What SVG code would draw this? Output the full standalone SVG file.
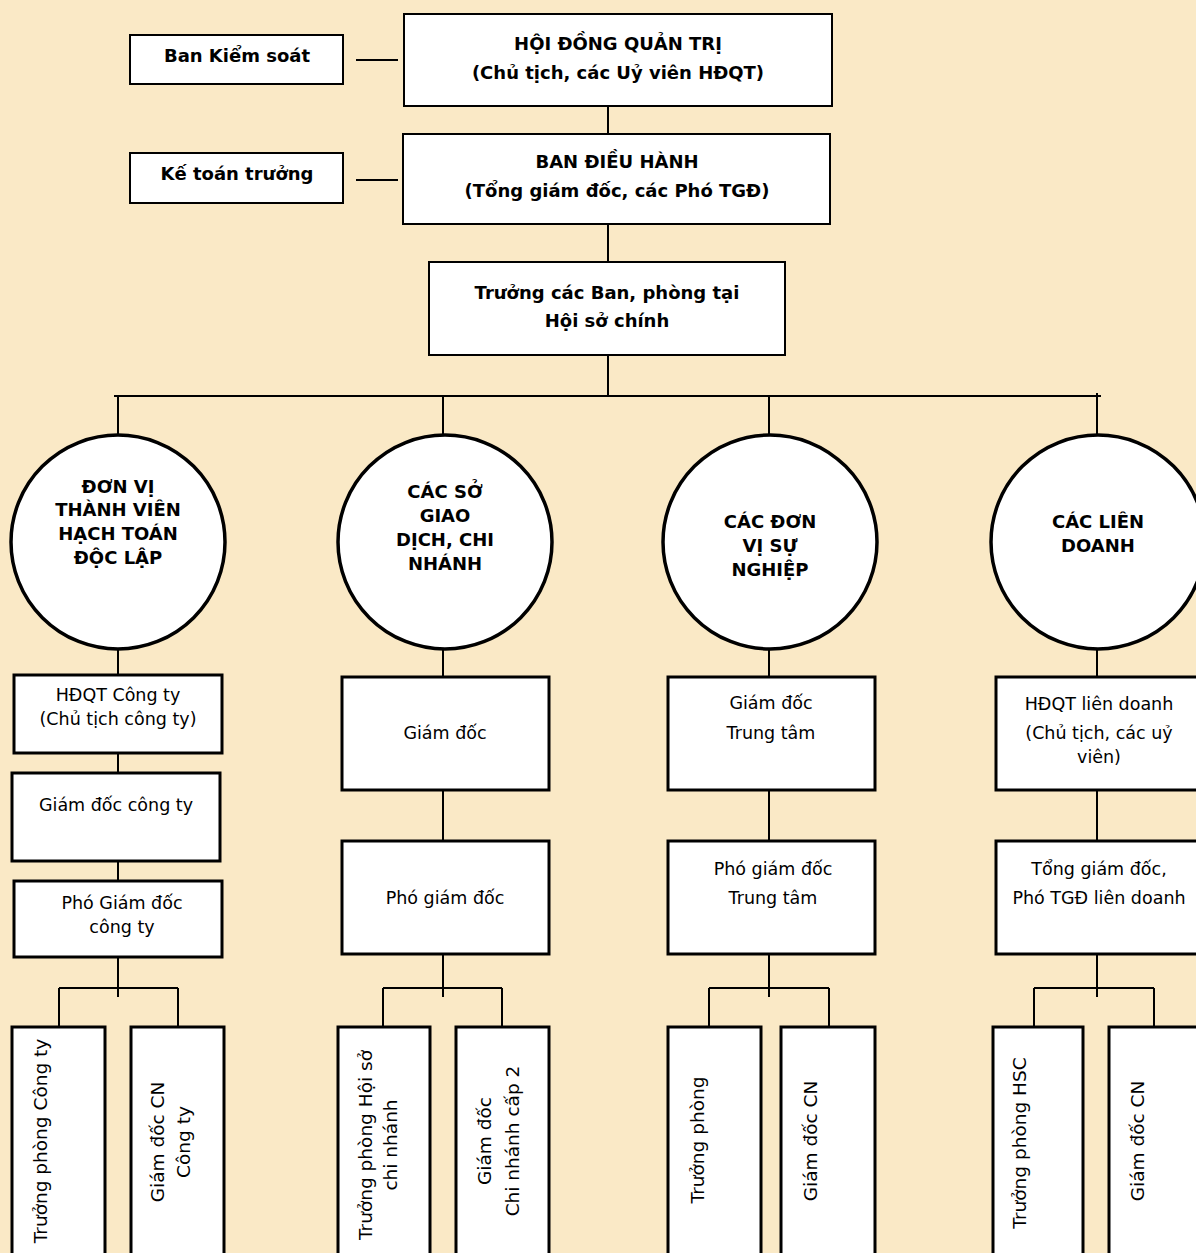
<svg xmlns="http://www.w3.org/2000/svg" width="1196" height="1253" viewBox="0 0 1196 1253">
<style>
.bg{fill:#FAE9C6}
.box{fill:#fff;stroke:#000;stroke-width:3}
.tbox{fill:#fff;stroke:#000;stroke-width:2}
.circ{fill:#fff;stroke:#000;stroke-width:3.5}
.ln{stroke:#000;stroke-width:2;fill:none}
text{font-family:"DejaVu Sans","Liberation Sans",sans-serif;fill:#000;text-anchor:middle;dominant-baseline:central}
.b{font-weight:bold;font-size:18px}
.r{font-size:17.5px}
.v{font-size:18.5px}
</style>
<rect class="bg" x="0" y="0" width="1196" height="1253"/>

<g id="connectors">
<line class="ln" x1="356" y1="60" x2="398" y2="60"/>
<line class="ln" x1="356" y1="180" x2="398" y2="180"/>
<line class="ln" x1="608" y1="106" x2="608" y2="134"/>
<line class="ln" x1="608" y1="224" x2="608" y2="262"/>
<line class="ln" x1="608" y1="355" x2="608" y2="396"/>
<line class="ln" x1="114" y1="396" x2="1101" y2="396"/>
<line class="ln" x1="118" y1="396" x2="118" y2="437"/>
<line class="ln" x1="443" y1="396" x2="443" y2="437"/>
<line class="ln" x1="769" y1="396" x2="769" y2="437"/>
<line class="ln" x1="1097" y1="393" x2="1097" y2="437"/>
<line class="ln" x1="118" y1="648" x2="118" y2="675"/>
<line class="ln" x1="118" y1="753" x2="118" y2="773"/>
<line class="ln" x1="118" y1="861" x2="118" y2="881"/>
<line class="ln" x1="118" y1="957" x2="118" y2="997"/>
<line class="ln" x1="59" y1="988" x2="178" y2="988"/>
<line class="ln" x1="59" y1="988" x2="59" y2="1027"/>
<line class="ln" x1="178" y1="988" x2="178" y2="1027"/>
<line class="ln" x1="443" y1="648" x2="443" y2="677"/>
<line class="ln" x1="443" y1="790" x2="443" y2="841"/>
<line class="ln" x1="443" y1="954" x2="443" y2="997"/>
<line class="ln" x1="383" y1="988" x2="502" y2="988"/>
<line class="ln" x1="383" y1="988" x2="383" y2="1027"/>
<line class="ln" x1="502" y1="988" x2="502" y2="1027"/>
<line class="ln" x1="769" y1="648" x2="769" y2="677"/>
<line class="ln" x1="769" y1="790" x2="769" y2="841"/>
<line class="ln" x1="769" y1="954" x2="769" y2="997"/>
<line class="ln" x1="709" y1="988" x2="829" y2="988"/>
<line class="ln" x1="709" y1="988" x2="709" y2="1027"/>
<line class="ln" x1="829" y1="988" x2="829" y2="1027"/>
<line class="ln" x1="1097" y1="648" x2="1097" y2="677"/>
<line class="ln" x1="1097" y1="790" x2="1097" y2="841"/>
<line class="ln" x1="1097" y1="954" x2="1097" y2="997"/>
<line class="ln" x1="1034" y1="988" x2="1154" y2="988"/>
<line class="ln" x1="1034" y1="988" x2="1034" y2="1027"/>
<line class="ln" x1="1154" y1="988" x2="1154" y2="1027"/>
</g>

<g id="ban-kiem-soat"><rect class="tbox" x="130" y="35" width="213" height="49"/><text class="b" x="237" y="55">Ban Kiểm soát</text></g>
<g id="hdqt"><rect class="tbox" x="404" y="14" width="428" height="92"/><text class="b" x="618" y="43">HỘI ĐỒNG QUẢN TRỊ</text><text class="b" x="618" y="72">(Chủ tịch, các Uỷ viên HĐQT)</text></g>
<g id="ke-toan-truong"><rect class="tbox" x="130" y="153" width="213" height="50"/><text class="b" x="237" y="173">Kế toán trưởng</text></g>
<g id="ban-dieu-hanh"><rect class="tbox" x="403" y="134" width="427" height="90"/><text class="b" x="617" y="161">BAN ĐIỀU HÀNH</text><text class="b" x="617" y="190">(Tổng giám đốc, các Phó TGĐ)</text></g>
<g id="truong-ban"><rect class="tbox" x="429" y="262" width="356" height="93"/><text class="b" x="607" y="292">Trưởng các Ban, phòng tại</text><text class="b" x="607" y="320">Hội sở chính</text></g>

<g id="c1"><ellipse class="circ" cx="118" cy="542" rx="107" ry="107"/><text class="b" x="118" y="486">ĐƠN VỊ</text><text class="b" x="118" y="509">THÀNH VIÊN</text><text class="b" x="118" y="533">HẠCH TOÁN</text><text class="b" x="118" y="557">ĐỘC LẬP</text></g>
<g id="c2"><ellipse class="circ" cx="445" cy="542" rx="107" ry="107"/><text class="b" x="445" y="491">CÁC SỞ</text><text class="b" x="445" y="515">GIAO</text><text class="b" x="445" y="539">DỊCH, CHI</text><text class="b" x="445" y="563">NHÁNH</text></g>
<g id="c3"><ellipse class="circ" cx="770" cy="542" rx="107" ry="107"/><text class="b" x="770" y="521">CÁC ĐƠN</text><text class="b" x="770" y="545">VỊ SỰ</text><text class="b" x="770" y="569">NGHIỆP</text></g>
<g id="c4"><ellipse class="circ" cx="1098" cy="542" rx="107" ry="107"/><text class="b" x="1098" y="521">CÁC LIÊN</text><text class="b" x="1098" y="545">DOANH</text></g>

<g id="hdqt-cty"><rect class="box" x="14" y="675" width="208" height="78"/><text class="r" x="118" y="695">HĐQT Công ty</text><text class="r" x="118" y="719">(Chủ tịch công ty)</text></g>
<g id="gd-cty"><rect class="box" x="12" y="773" width="208" height="88"/><text class="r" x="116" y="805">Giám đốc công ty</text></g>
<g id="pgd-cty"><rect class="box" x="14" y="881" width="208" height="76"/><text class="r" x="122" y="903">Phó Giám đốc</text><text class="r" x="122" y="927">công ty</text></g>
<g id="tp-cty"><rect class="box" x="12" y="1027" width="93" height="240"/><text class="v" transform="translate(40,1141) rotate(-90)">Trưởng phòng Công ty</text></g>
<g id="gdcn-cty"><rect class="box" x="131" y="1027" width="93" height="240"/><text class="v" transform="translate(157,1142) rotate(-90)">Giám đốc CN</text><text class="v" transform="translate(183,1142) rotate(-90)">Công ty</text></g>

<g id="gd-sgd"><rect class="box" x="342" y="677" width="207" height="113"/><text class="r" x="445" y="733">Giám đốc</text></g>
<g id="pgd-sgd"><rect class="box" x="342" y="841" width="207" height="113"/><text class="r" x="445" y="898">Phó giám đốc</text></g>
<g id="tp-hs"><rect class="box" x="338" y="1027" width="92" height="240"/><text class="v" transform="translate(365,1145) rotate(-90)">Trưởng phòng Hội sở</text><text class="v" transform="translate(390,1145) rotate(-90)">chi nhánh</text></g>
<g id="gd-cn2"><rect class="box" x="456" y="1027" width="93" height="240"/><text class="v" transform="translate(484,1141) rotate(-90)">Giám đốc</text><text class="v" transform="translate(512,1141) rotate(-90)">Chi nhánh cấp 2</text></g>

<g id="gd-tt"><rect class="box" x="668" y="677" width="207" height="113"/><text class="r" x="771" y="703">Giám đốc</text><text class="r" x="771" y="733">Trung tâm</text></g>
<g id="pgd-tt"><rect class="box" x="668" y="841" width="207" height="113"/><text class="r" x="773" y="869">Phó giám đốc</text><text class="r" x="773" y="898">Trung tâm</text></g>
<g id="tp-tt"><rect class="box" x="668" y="1027" width="93" height="240"/><text class="v" transform="translate(697,1140) rotate(-90)">Trưởng phòng</text></g>
<g id="gdcn-tt"><rect class="box" x="781" y="1027" width="94" height="240"/><text class="v" transform="translate(810,1141) rotate(-90)">Giám đốc CN</text></g>

<g id="hdqt-ld"><rect class="box" x="996" y="677" width="210" height="113"/><text class="r" x="1099" y="704">HĐQT liên doanh</text><text class="r" x="1099" y="733">(Chủ tịch, các uỷ</text><text class="r" x="1099" y="757">viên)</text></g>
<g id="tgd-ld"><rect class="box" x="996" y="841" width="210" height="113"/><text class="r" x="1099" y="869">Tổng giám đốc,</text><text class="r" x="1099" y="898">Phó TGĐ liên doanh</text></g>
<g id="tp-hsc"><rect class="box" x="993" y="1027" width="90" height="240"/><text class="v" transform="translate(1019,1143) rotate(-90)">Trưởng phòng HSC</text></g>
<g id="gdcn-ld"><rect class="box" x="1109" y="1027" width="100" height="240"/><text class="v" transform="translate(1137,1141) rotate(-90)">Giám đốc CN</text></g>
</svg>
